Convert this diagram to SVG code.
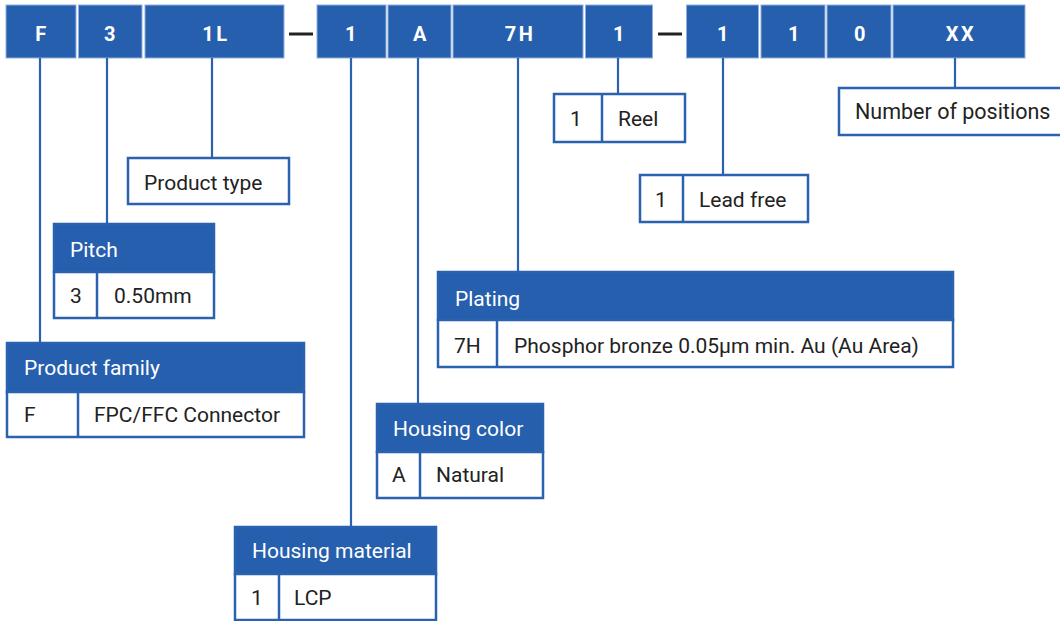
<svg xmlns="http://www.w3.org/2000/svg" width="1060" height="621" viewBox="0 0 1060 621">
<style>
.seg{fill:#265fad;stroke:#8fb0dc;stroke-width:1}
.segt{fill:#fff;font-family:Roboto,"Liberation Sans",sans-serif;font-weight:bold;font-size:20px;text-anchor:middle;letter-spacing:2.5px}
.box{fill:#fff;stroke:#2a62b0;stroke-width:2.5}
.hdr{fill:#265fad;stroke:#2a62b0;stroke-width:2.5}
.div{stroke:#2a62b0;stroke-width:2.5}
.t{fill:#222;font-family:Roboto,"Liberation Sans",sans-serif;font-size:21px}
.ht{fill:#fff;font-family:Roboto,"Liberation Sans",sans-serif;font-size:21px}
.con{stroke:#2a62b0;stroke-width:2.2;fill:none}
.dash{stroke:#222;stroke-width:3}
</style>
<rect width="1060" height="621" fill="#fff"/>
<g id="code">
<rect class="seg" x="6" y="5" width="70" height="53"/><text class="segt" x="42" y="41">F</text>
<rect class="seg" x="78.5" y="5" width="63.5" height="53"/><text class="segt" x="111" y="41">3</text>
<rect class="seg" x="145" y="5" width="139" height="53"/><text class="segt" x="216" y="41">1L</text>
<line class="dash" x1="289" y1="34" x2="313" y2="34"/>
<rect class="seg" x="317" y="5" width="69" height="53"/><text class="segt" x="352" y="41">1</text>
<rect class="seg" x="388" y="5" width="63" height="53"/><text class="segt" x="421" y="41">A</text>
<rect class="seg" x="453" y="5" width="130" height="53"/><text class="segt" x="520" y="41">7H</text>
<rect class="seg" x="585.5" y="5" width="67" height="53"/><text class="segt" x="620" y="41">1</text>
<line class="dash" x1="658" y1="34" x2="682" y2="34"/>
<rect class="seg" x="686.5" y="5" width="72" height="53"/><text class="segt" x="724" y="41">1</text>
<rect class="seg" x="761" y="5" width="64" height="53"/><text class="segt" x="795" y="41">1</text>
<rect class="seg" x="827" y="5" width="64" height="53"/><text class="segt" x="861" y="41">0</text>
<rect class="seg" x="893" y="5" width="132" height="53"/><text class="segt" x="961" y="41">XX</text>
</g>
<g id="connectors">
<line class="con" x1="40" y1="58" x2="40" y2="343"/>
<line class="con" x1="107" y1="58" x2="107" y2="224"/>
<line class="con" x1="212" y1="58" x2="212" y2="158"/>
<line class="con" x1="351" y1="58" x2="351" y2="527"/>
<line class="con" x1="418" y1="58" x2="418" y2="404"/>
<line class="con" x1="518" y1="58" x2="518" y2="272"/>
<line class="con" x1="618" y1="58" x2="618" y2="94"/>
<line class="con" x1="723" y1="58" x2="723" y2="175"/>
<line class="con" x1="955" y1="58" x2="955" y2="88"/>
</g>
<g id="product-type">
<rect class="box" x="128" y="158" width="161" height="46"/>
<text class="t" x="144" y="190">Product type</text>
</g>
<g id="pitch">
<rect class="hdr" x="54" y="224" width="160" height="48"/>
<rect class="box" x="54" y="272" width="160" height="46"/>
<line class="div" x1="97" y1="272" x2="97" y2="318"/>
<text class="ht" x="70" y="257">Pitch</text>
<text class="t" x="70" y="303">3</text>
<text class="t" x="114" y="303">0.50mm</text>
</g>
<g id="product-family">
<rect class="hdr" x="7" y="343" width="297" height="49"/>
<rect class="box" x="7" y="392" width="297" height="45"/>
<line class="div" x1="78" y1="392" x2="78" y2="437"/>
<text class="ht" x="24" y="375">Product family</text>
<text class="t" x="24" y="422">F</text>
<text class="t" x="94" y="422">FPC/FFC Connector</text>
</g>
<g id="housing-color">
<rect class="hdr" x="377" y="404" width="166" height="48"/>
<rect class="box" x="377" y="452" width="166" height="46"/>
<line class="div" x1="420" y1="452" x2="420" y2="498"/>
<text class="ht" x="393" y="436">Housing color</text>
<text class="t" x="392" y="482">A</text>
<text class="t" x="436" y="482">Natural</text>
</g>
<g id="housing-material">
<rect class="hdr" x="235" y="527" width="201" height="47"/>
<rect class="box" x="235" y="574" width="201" height="46"/>
<line class="div" x1="279" y1="574" x2="279" y2="620"/>
<text class="ht" x="252" y="558">Housing material</text>
<text class="t" x="251" y="605">1</text>
<text class="t" x="294" y="605">LCP</text>
</g>
<g id="plating">
<rect class="hdr" x="438" y="272" width="515" height="48"/>
<rect class="box" x="438" y="320" width="515" height="47"/>
<line class="div" x1="497" y1="320" x2="497" y2="367"/>
<text class="ht" x="455" y="306">Plating</text>
<text class="t" x="454" y="353">7H</text>
<text class="t" x="514" y="353">Phosphor bronze 0.05µm min. Au (Au Area)</text>
</g>
<g id="reel">
<rect class="box" x="554" y="94" width="131" height="48"/>
<line class="div" x1="602" y1="94" x2="602" y2="142"/>
<text class="t" x="570" y="126">1</text>
<text class="t" x="618" y="126">Reel</text>
</g>
<g id="lead-free">
<rect class="box" x="640" y="175" width="168" height="47"/>
<line class="div" x1="683" y1="175" x2="683" y2="222"/>
<text class="t" x="655" y="207">1</text>
<text class="t" x="699" y="207">Lead free</text>
</g>
<g id="positions">
<rect class="box" x="839" y="88" width="224" height="47"/>
<text class="t" x="855" y="119" style="font-size:21.5px">Number of positions</text>
</g>
</svg>
